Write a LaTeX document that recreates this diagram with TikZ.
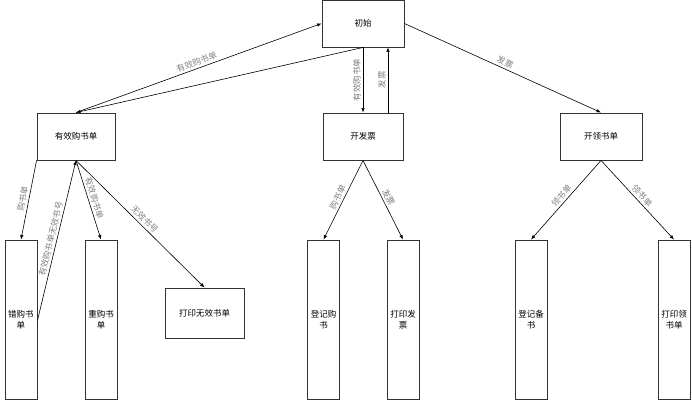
\documentclass[tikz,border=0pt]{standalone}
\usepackage{fontspec}
\newfontfamily\cjk{Noto Sans CJK SC}
\usetikzlibrary{arrows.meta}

\tikzset{
  box/.style={draw=black!80, line width=0.9pt, fill=white, inner sep=0pt,
    align=center, font=\cjk\fontsize{8.5}{11}\selectfont},
  tallbox/.style={box, minimum width=32pt, minimum height=159pt},
  flow/.style={-{Latex[length=4.5pt,width=3.5pt]}, line width=0.6pt},
  lbl/.style={font=\cjk\fontsize{8.5}{10}\selectfont, text=black!50, inner sep=2pt},
}

\begin{document}
\begin{tikzpicture}[x=1pt,y=-1pt]
  \useasboundingbox (0,0) rectangle (692,401);

  % processes
  \node[box, minimum width=82pt, minimum height=47pt] (chushi) at (363,23.5) {初始};
  \node[box, minimum width=78pt, minimum height=47pt] (youxiao) at (76,136.5) {有效购书单};
  \node[box, minimum width=80pt, minimum height=47pt] (kaifp) at (363,136.5) {开发票};
  \node[box, minimum width=82pt, minimum height=47pt] (kailing) at (601,136.5) {开领书单};

  \node[tallbox] (cuogou) at (21,319.5) {错购书\\单};
  \node[tallbox] (chonggou) at (101,319.5) {重购书\\单};
  \node[box, minimum width=79pt, minimum height=50pt] (wuxiao) at (204.5,313) {打印无效书单};
  \node[tallbox] (denggou) at (323.5,319.5) {登记购\\书};
  \node[tallbox] (dayinfp) at (403,319.5) {打印发\\票};
  \node[tallbox] (dengbei) at (531,319.5) {登记备\\书};
  \node[tallbox] (dayinling) at (674,319.5) {打印领\\书单};

  % flows from the top
  \draw[flow] (youxiao.north) -- node[lbl, sloped, above] {有效购书单} (chushi.west);
  \draw[flow] (chushi.south) -- (youxiao.north);
  \draw[flow] (chushi.south) -- node[lbl, rotate=90, anchor=south] {有效购书单} (kaifp.north);
  \draw[flow] ([xshift=25pt]kaifp.north) -- node[lbl, sloped, above] {发票} ([xshift=25pt]chushi.south);
  \draw[flow] (chushi.east) -- node[lbl, sloped, above] {发票} (kailing.north);

  % left branch
  \draw[flow] (youxiao.south west) -- node[lbl, sloped, above] {购书单} (cuogou.north);
  \draw[flow] ([yshift=-1pt]cuogou.east) -- node[lbl, sloped, above] {有效购书单无效书号} (youxiao.south);
  \draw[flow] (youxiao.south) -- node[lbl, sloped, above] {有效购书单} (chonggou.north);
  \draw[flow] (youxiao.south) -- node[lbl, sloped, above] {无效书号} (wuxiao.north);

  % middle branch
  \draw[flow] (kaifp.south) -- node[lbl, sloped, above] {购书单} (denggou.north);
  \draw[flow] (kaifp.south) -- node[lbl, sloped, above] {发票} (dayinfp.north);

  % right branch
  \draw[flow] (kailing.south) -- node[lbl, sloped, above] {领书单} (dengbei.north);
  \draw[flow] (kailing.south) -- node[lbl, sloped, above] {领书单} (dayinling.north);
\end{tikzpicture}
\end{document}
